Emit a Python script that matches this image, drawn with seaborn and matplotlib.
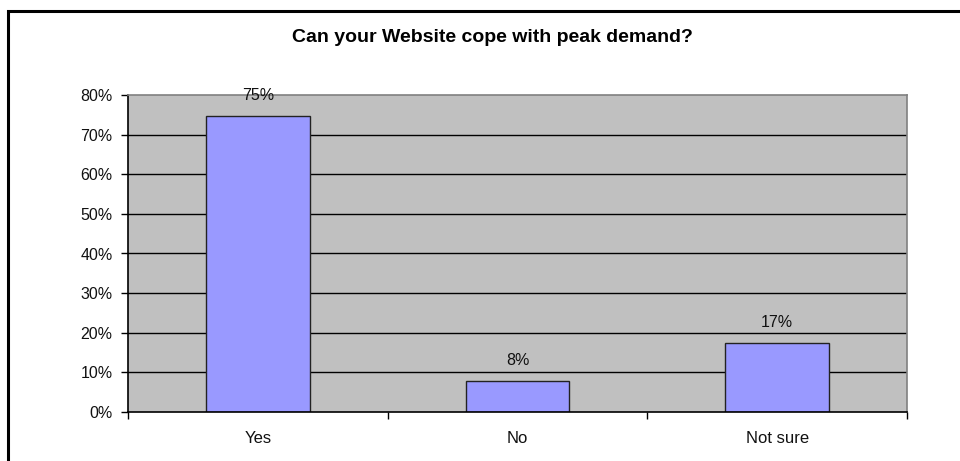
import matplotlib
matplotlib.use("Agg")
import matplotlib.pyplot as plt
import seaborn as sns
import pandas as pd
from matplotlib.patches import Rectangle
from matplotlib.ticker import FixedLocator

categories = ["Yes", "No", "Not sure"]
values = [74.6, 7.8, 17.4]
value_labels = ["75%", "8%", "17%"]
y_ticks = [0, 10, 20, 30, 40, 50, 60, 70, 80]
y_tick_labels = ["0%", "10%", "20%", "30%", "40%", "50%", "60%", "70%", "80%"]
title = "Can your Website cope with peak demand?"

sns.set_style("white")
plt.rcParams["font.family"] = ["Liberation Sans", "DejaVu Sans"]

df = pd.DataFrame({"category": categories, "value": values})

fig = plt.figure(figsize=(9.6, 4.61), dpi=100)
ax = fig.add_axes([128 / 960, 1 - 412 / 461, 779 / 960, 317 / 461])
ax.set_facecolor("#C0C0C0")

# frame around chart
fig.patches.append(Rectangle((7.5 / 960, -0.2), 1.2, 1 - 10.5 / 461 + 0.2,
                             transform=fig.transFigure, fill=False,
                             edgecolor="black", linewidth=2.2, zorder=10))

for y in y_ticks[1:-1]:
    ax.axhline(y, color="#000000", linewidth=1.0, zorder=0.5)

sns.barplot(data=df, x="category", y="value", order=categories, width=0.4,
            color="#9999FF", edgecolor="#222222", linewidth=1.0, ax=ax,
            saturation=1, zorder=2)

for i, (v, lab) in enumerate(zip(values, value_labels)):
    ax.annotate(lab, (i, v), xytext=(0, 9.5), textcoords="offset points",
                ha="center", va="bottom", fontsize=11.5, color="#111111")

ax.set_xlim(-0.5, 2.5)
ax.set_ylim(0, 80)
ax.set_yticks(y_ticks)
ax.set_yticklabels(y_tick_labels, fontsize=11.5, color="#111111")
ax.xaxis.set_major_locator(FixedLocator([-0.5, 0.5, 1.5, 2.5]))
ax.xaxis.set_minor_locator(FixedLocator([0, 1, 2]))
ax.set_xticklabels([])
ax.set_xticklabels(categories, minor=True, fontsize=12, color="#111111")
ax.tick_params(axis="x", which="major", direction="out", length=5, width=1, color="black", bottom=True)
ax.tick_params(axis="x", which="minor", length=0, pad=14, bottom=True)
ax.tick_params(axis="y", direction="out", length=5, width=1, color="black", pad=6, left=True)
ax.set_xlabel("")
ax.set_ylabel("")

for side in ["left", "bottom"]:
    ax.spines[side].set_color("black")
    ax.spines[side].set_linewidth(1.2)
for side in ["top", "right"]:
    ax.spines[side].set_color("#808080")
    ax.spines[side].set_linewidth(1.2)

fig.text(492 / 960, 1 - 38 / 461, title, ha="center", va="center",
         fontsize=14, fontweight="bold", color="black")

fig.savefig("out.png", dpi=100)
